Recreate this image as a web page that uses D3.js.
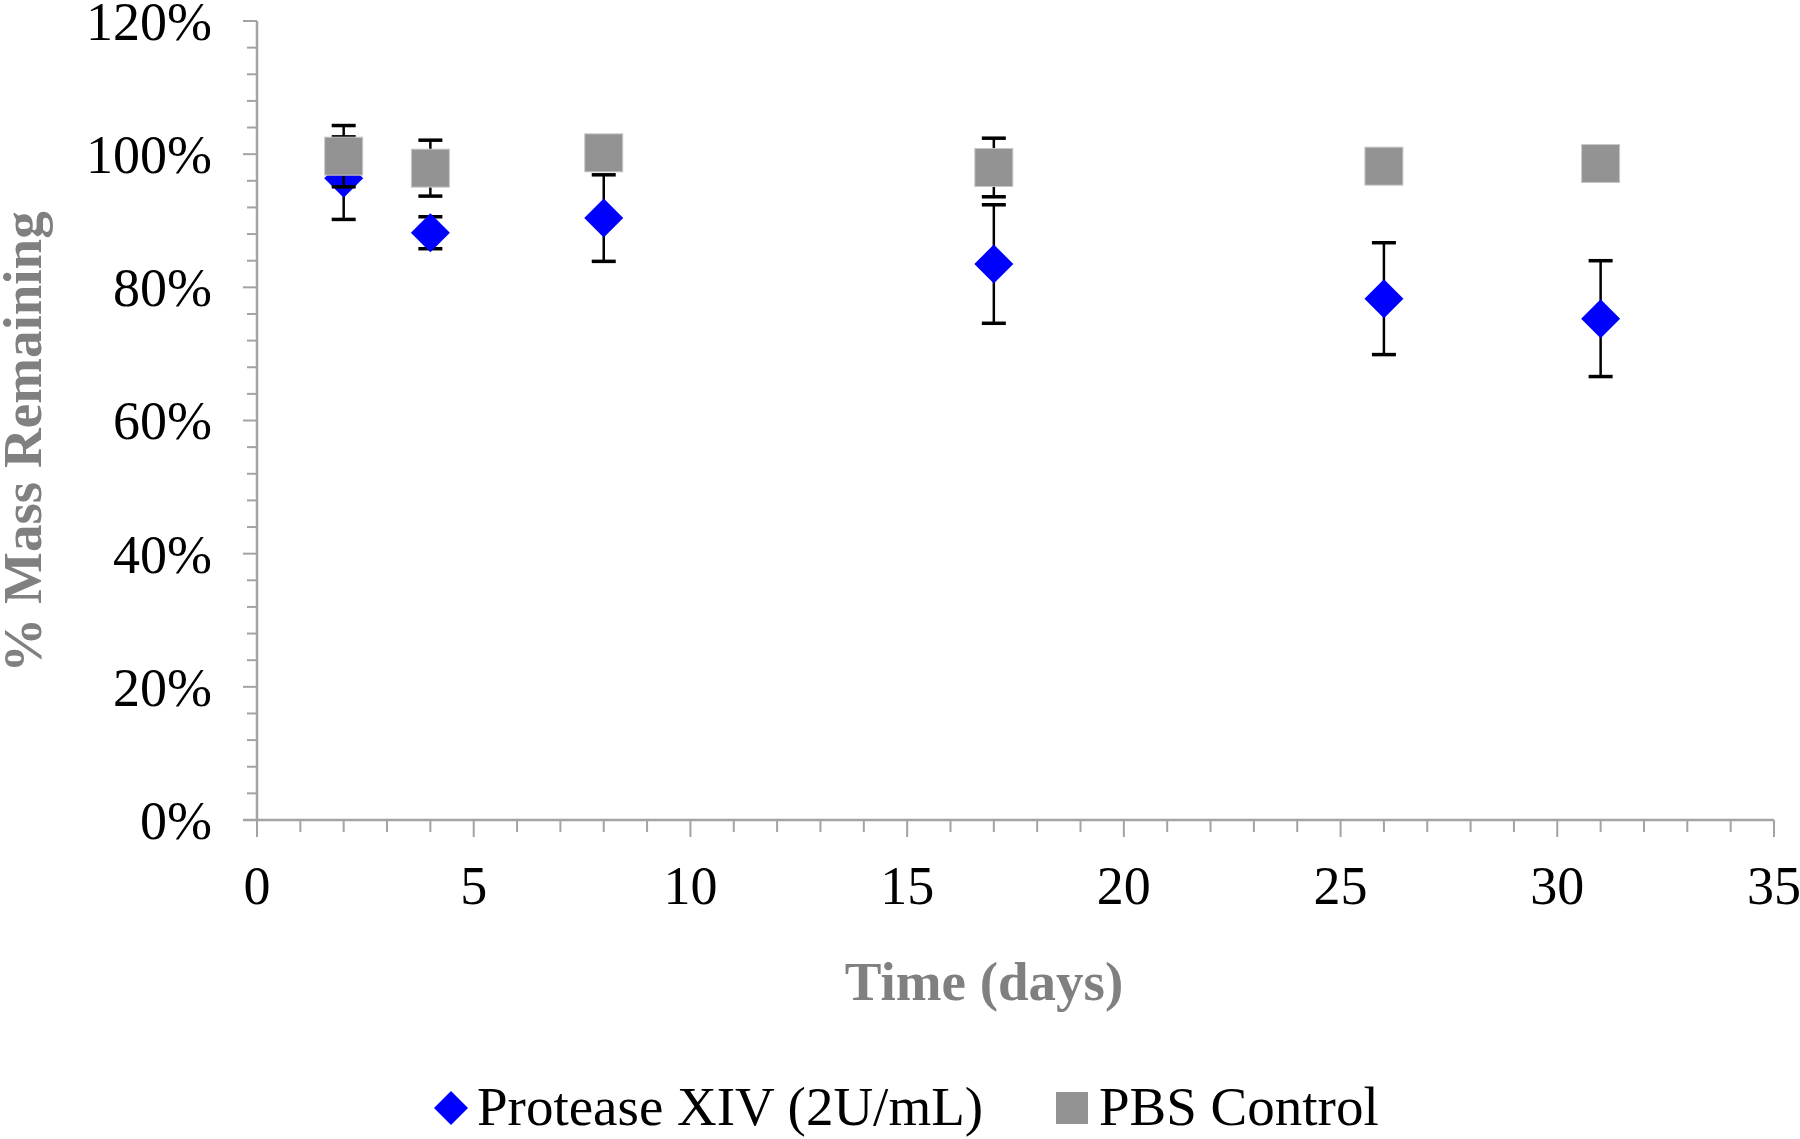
<!DOCTYPE html>
<html><head><meta charset="utf-8">
<script src="https://cdn.jsdelivr.net/npm/d3@7"></script>
<style>body{margin:0;background:#fff}svg{display:block}</style>
</head><body>
<script>
const days = [2, 4, 8, 17, 26, 31];
const proteaseMean = [96.4, 88.2, 90.4, 83.5, 78.3, 75.3];
const proteaseErr  = [6.2, 2.4, 6.5, 8.9, 8.4, 8.7];
const pbsMean = [99.7, 97.9, 100.2, 98.0, 98.2, 98.6];
const pbsErr  = [4.6, 4.2, 1.2, 4.4, 1.2, 1.2];
const yTicks = [0, 20, 40, 60, 80, 100, 120];
const xTicks = [0, 5, 10, 15, 20, 25, 30, 35];
const seriesNames = ["Protease XIV (2U/mL)", "PBS Control"];

const W = 1800, H = 1139;
const svg = d3.select("body").append("svg").attr("width", W).attr("height", H);
const font = "'Liberation Serif','Times New Roman',serif";
const axisColor = "#a3a3a3";

const x = d3.scaleLinear().domain([0, 35]).range([257, 1774]);
const y = d3.scaleLinear().domain([0, 120]).range([820, 21]);

// Y axis
const yMinor = d3.range(0, 121, 4);
svg.selectAll(".ymin").data(yMinor).enter().append("line")
  .attr("x1", d => yTicks.includes(d) ? 243 : 247).attr("x2", 257)
  .attr("y1", d => y(d)).attr("y2", d => y(d))
  .attr("stroke", axisColor).attr("stroke-width", 2);
svg.append("line").attr("x1", 257).attr("x2", 257).attr("y1", y(120)).attr("y2", y(0))
  .attr("stroke", axisColor).attr("stroke-width", 2.5);
svg.selectAll(".ylab").data(yTicks).enter().append("text")
  .attr("x", 212).attr("y", d => y(d)).attr("dy", "0.35em")
  .attr("text-anchor", "end").attr("font-family", font).attr("font-size", 54)
  .attr("fill", "#000").text(d => d + "%");

// X axis
const xMinor = d3.range(0, 36, 1);
svg.selectAll(".xmin").data(xMinor).enter().append("line")
  .attr("x1", d => x(d)).attr("x2", d => x(d))
  .attr("y1", y(0)).attr("y2", d => xTicks.includes(d) ? y(0) + 17 : y(0) + 12)
  .attr("stroke", axisColor).attr("stroke-width", 2);
svg.append("line").attr("x1", 243).attr("x2", x(35)).attr("y1", y(0)).attr("y2", y(0))
  .attr("stroke", axisColor).attr("stroke-width", 2.5);
svg.selectAll(".xlab").data(xTicks).enter().append("text")
  .attr("x", d => x(d)).attr("y", 904)
  .attr("text-anchor", "middle").attr("font-family", font).attr("font-size", 54)
  .attr("fill", "#000").text(d => d);

// Axis titles
svg.append("text").attr("transform", "translate(41,442) rotate(-90)")
  .attr("text-anchor", "middle").attr("font-family", font).attr("font-size", 55)
  .attr("font-weight", "bold").attr("fill", "#808080").text("% Mass Remaining");
svg.append("text").attr("x", 984).attr("y", 1000)
  .attr("text-anchor", "middle").attr("font-family", font).attr("font-size", 55)
  .attr("font-weight", "bold").attr("fill", "#808080").text("Time (days)");

function errBars(mean, err) {
  const g = svg.append("g").attr("stroke", "#000").attr("stroke-width", 2.5);
  days.forEach((d, i) => {
    const cx = x(d), t = y(mean[i] + err[i]), b = y(mean[i] - err[i]);
    g.append("line").attr("x1", cx).attr("x2", cx).attr("y1", t).attr("y2", b);
    g.append("line").attr("x1", cx - 12).attr("x2", cx + 12).attr("y1", t).attr("y2", t).attr("stroke-width", 3.5);
    g.append("line").attr("x1", cx - 12).attr("x2", cx + 12).attr("y1", b).attr("y2", b).attr("stroke-width", 3.5);
  });
}
const diamond = (cx, cy, r) => `M${cx},${cy - r}L${cx + r},${cy}L${cx},${cy + r}L${cx - r},${cy}Z`;

// Protease series
errBars(proteaseMean, proteaseErr);
svg.selectAll(".dia").data(days).enter().append("path")
  .attr("d", (d, i) => diamond(x(d), y(proteaseMean[i]), 19.5))
  .attr("fill", "#0000ff");

// PBS series
errBars(pbsMean, pbsErr);
svg.selectAll(".sq").data(days).enter().append("rect")
  .attr("x", d => x(d) - 19).attr("y", (d, i) => y(pbsMean[i]) - 19)
  .attr("width", 38).attr("height", 38)
  .attr("fill", "#939393").attr("stroke", "#c8c8c8").attr("stroke-width", 1);

// Legend
svg.append("path").attr("d", diamond(451, 1108, 17)).attr("fill", "#0000ff");
svg.append("text").attr("x", 477).attr("y", 1125).attr("font-family", font)
  .attr("font-size", 55).attr("fill", "#000").text(seriesNames[0]);
svg.append("rect").attr("x", 1056).attr("y", 1092).attr("width", 32).attr("height", 32)
  .attr("fill", "#939393");
svg.append("text").attr("x", 1099).attr("y", 1125).attr("font-family", font)
  .attr("font-size", 55).attr("fill", "#000").text(seriesNames[1]);
</script>
</body></html>
